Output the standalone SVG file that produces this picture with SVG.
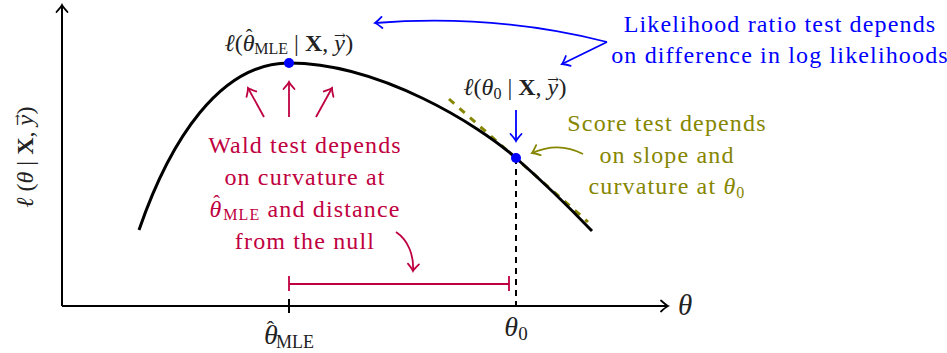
<svg xmlns="http://www.w3.org/2000/svg" width="947" height="353" viewBox="0 0 947 353" font-family="'Liberation Serif', 'DejaVu Serif', serif" font-size="24">
<defs>
<style>
.blue{fill:#0000FF}
.red{fill:#BF0040}
.olive{fill:#868600}
.blk{fill:#222}
.ax{stroke:#000;stroke-width:2;fill:none}
.it{font-style:italic}
.bf{font-weight:bold}
.dv{font-family:'DejaVu Serif',serif;font-style:normal}
.body{letter-spacing:1.15px}
</style>
<marker id="ahb" markerUnits="userSpaceOnUse" markerWidth="16" markerHeight="16" viewBox="-10 -8 12 16" refX="0" refY="0" orient="auto">
<path d="M-7,-5.5 Q-2,-1 0,0 Q-2,1 -7,5.5" fill="none" stroke="#0000FF" stroke-width="1.8" stroke-linecap="round"/>
</marker>
<marker id="ahr" markerUnits="userSpaceOnUse" markerWidth="16" markerHeight="16" viewBox="-10 -8 12 16" refX="0" refY="0" orient="auto">
<path d="M-7,-5.5 Q-2,-1 0,0 Q-2,1 -7,5.5" fill="none" stroke="#BF0040" stroke-width="1.8" stroke-linecap="round"/>
</marker>
<marker id="aho" markerUnits="userSpaceOnUse" markerWidth="16" markerHeight="16" viewBox="-10 -8 12 16" refX="0" refY="0" orient="auto">
<path d="M-7,-5.5 Q-2,-1 0,0 Q-2,1 -7,5.5" fill="none" stroke="#868600" stroke-width="1.8" stroke-linecap="round"/>
</marker>
<marker id="ahk" markerUnits="userSpaceOnUse" markerWidth="16" markerHeight="16" viewBox="-10 -8 12 16" refX="0" refY="0" orient="auto">
<path d="M-7,-5.5 Q-2,-1 0,0 Q-2,1 -7,5.5" fill="none" stroke="#000" stroke-width="1.8" stroke-linecap="round"/>
</marker>
</defs>
<rect width="947" height="353" fill="#fff"/>

<g id="axes">
<path class="ax" d="M62,306 L62,5" marker-end="url(#ahk)"/>
<path class="ax" d="M62,306 L668,306" marker-end="url(#ahk)"/>
<path class="ax" d="M289,299 L289,313"/>
<text class="blk it" x="685" y="315" font-size="29" text-anchor="middle">θ</text>
<text class="blk" x="289" y="344" text-anchor="middle"><tspan class="it" font-size="28">θ</tspan><tspan font-size="22" dx="-11" dy="-8">ˆ</tspan><tspan font-size="18" dx="2" dy="12">MLE</tspan></text>
<text class="blk" x="516" y="336" text-anchor="middle"><tspan class="it" font-size="28">θ</tspan><tspan font-size="19" dy="4">0</tspan></text>
<text class="blk" transform="translate(33,157) rotate(-90)" text-anchor="middle"><tspan class="it">ℓ</tspan> (<tspan class="it">θ</tspan> | <tspan class="bf">X</tspan>, <tspan class="it">y</tspan><tspan class="dv" font-size="14" dx="-11" dy="-11.5">→</tspan><tspan dx="-0.5" dy="11.5">)</tspan></text>
</g>

<g id="curve">
<path d="M449,99 L588,222" stroke="#868600" stroke-width="3" stroke-dasharray="7 7" fill="none"/>
<path d="M139,230 C170,140 220,63 289,63 C380,63 480,126 516,158 C541,180 567,205 592,231" stroke="#000" stroke-width="3" fill="none"/>
<path d="M516,158 L516,306" stroke="#000" stroke-width="2" stroke-dasharray="6 5" fill="none"/>
</g>

<g id="mle-point">
<circle cx="289" cy="63" r="5" fill="#0000FF"/>
<text class="blk" x="289" y="51" text-anchor="middle"><tspan class="it">ℓ</tspan>(<tspan class="it">θ</tspan><tspan font-size="20" dx="-9" dy="-7">ˆ</tspan><tspan font-size="16" dx="2" dy="10">MLE</tspan><tspan dy="-3"> | </tspan><tspan class="bf">X</tspan>, <tspan class="it">y</tspan><tspan class="dv" font-size="14" dx="-11" dy="-11.5">→</tspan><tspan dx="-0.5" dy="11.5">)</tspan></text>
</g>

<g id="null-point">
<circle cx="516" cy="158" r="5" fill="#0000FF"/>
<text class="blk" x="515" y="95" text-anchor="middle"><tspan class="it">ℓ</tspan>(<tspan class="it">θ</tspan><tspan font-size="16" dy="4">0</tspan><tspan dy="-4"> | </tspan><tspan class="bf">X</tspan>, <tspan class="it">y</tspan><tspan class="dv" font-size="14" dx="-11" dy="-11.5">→</tspan><tspan dx="-0.5" dy="11.5">)</tspan></text>
</g>

<g id="lrt" class="body">
<text class="blue" x="780" y="32" text-anchor="middle">Likelihood ratio test depends</text>
<text class="blue" x="780" y="63" text-anchor="middle">on difference in log likelihoods</text>
</g>

<g id="wald" class="body">
<text class="red" x="305" y="153" text-anchor="middle">Wald test depends</text>
<text class="red" x="305" y="185" text-anchor="middle">on curvature at</text>
<text class="red" x="305" y="217" text-anchor="middle"><tspan class="it">θ</tspan><tspan font-size="20" dx="-9" dy="-7">ˆ</tspan><tspan font-size="16" dx="2" dy="10">MLE</tspan><tspan dy="-3"> and distance</tspan></text>
<text class="red" x="305" y="249" text-anchor="middle">from the null</text>
</g>

<g id="score" class="body">
<text class="olive" x="667" y="131" text-anchor="middle">Score test depends</text>
<text class="olive" x="667" y="163" text-anchor="middle">on slope and</text>
<text class="olive" x="667" y="194" text-anchor="middle">curvature at <tspan class="it">θ</tspan><tspan font-size="16" dy="4">0</tspan></text>
</g>

<g id="connectors" fill="none" stroke-width="1.8">
<path d="M607,42 C560,30 480,15 375,23" stroke="#0000FF" marker-end="url(#ahb)"/>
<path d="M607,42 L562,64" stroke="#0000FF" marker-end="url(#ahb)"/>
<path d="M516,110 L516,141" stroke="#0000FF" marker-end="url(#ahb)"/>
<path d="M264,117 L248,88" stroke="#BF0040" marker-end="url(#ahr)"/>
<path d="M289,117 L289,82" stroke="#BF0040" marker-end="url(#ahr)"/>
<path d="M316,117 L332,88" stroke="#BF0040" marker-end="url(#ahr)"/>
<path d="M396,232 C408,240 414,255 413,271" stroke="#BF0040" marker-end="url(#ahr)"/>
<path d="M289,276 L289,291 M289,284 L509,284 M509,276 L509,291" stroke="#BF0040"/>
<path d="M583,154 C568,146 550,145 532,153" stroke="#868600" marker-end="url(#aho)"/>
</g>
</svg>
